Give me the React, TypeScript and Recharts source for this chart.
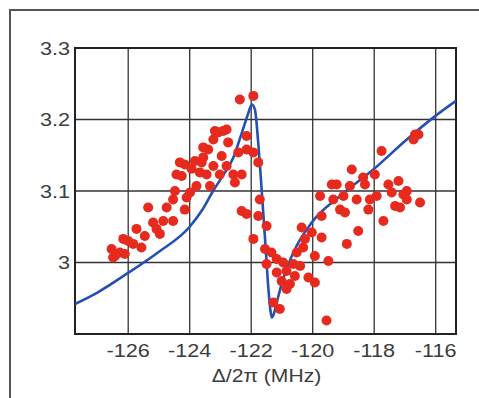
import React from "react";
import {
  ComposedChart,
  Scatter,
  Line,
  XAxis,
  YAxis,
  CartesianGrid,
  ReferenceArea,
  Label,
} from "recharts";

// measured points (detuning in MHz, signal)
const measuredX = [
  -126.54, -126.43, -126.27, -126.11, -126.49, -126.16, -126.0, -125.84, -125.73, -125.57,
  -125.46, -125.35, -125.19, -125.08, -124.97, -124.86, -124.75, -124.54, -124.54, -124.48,
  -124.43, -124.26, -124.16, -124.16, -124.1, -123.99, -123.94, -123.83, -123.78, -123.67,
  -123.61, -123.56, -123.45, -123.4, -123.34, -123.23, -123.18, -123.07, -122.96, -122.91,
  -122.8, -122.75, -123.02, -122.8, -122.58, -122.53, -122.42, -122.37, -122.31, -122.15,
  -122.15, -122.15, -121.93, -121.93, -121.93, -121.77, -121.72, -121.77, -121.5, -121.5,
  -121.34, -121.28, -121.07, -121.17, -121.01, -120.96, -120.85, -120.74, -120.63, -120.58,
  -120.52, -120.41, -120.36, -120.31, -120.25, -120.14, -120.03, -119.93, -119.93, -119.76,
  -119.71, -119.71, -119.55, -119.49, -119.38, -119.33, -119.22, -119.11, -119.0, -118.95,
  -118.89, -118.79, -118.73, -118.57, -118.52, -118.36, -118.3, -118.19, -118.14, -117.98,
  -117.92, -117.76, -117.7, -117.54, -117.43, -117.32, -117.21, -117.16, -117.05, -116.94,
  -116.72, -116.67, -116.56, -116.51, -116.94, -122.31, -123.23, -123.56, -124.32, -121.17,
  -120.85, -121.55,
];
const measuredY = [
  3.019, 3.009, 3.014, 3.012, 3.007, 3.033, 3.03, 3.026, 3.047, 3.021,
  3.037, 3.077, 3.056, 3.047, 3.04, 3.058, 3.077, 3.058, 3.088, 3.1,
  3.123, 3.121, 3.137, 3.074, 3.091, 3.098, 3.131, 3.142, 3.107, 3.126,
  3.14, 3.147, 3.123, 3.158, 3.107, 3.172, 3.184, 3.182, 3.149, 3.184,
  3.186, 3.168, 3.123, 3.135, 3.123, 3.112, 3.154, 3.228, 3.072, 3.177,
  3.158, 3.068, 3.233, 3.033, 3.154, 3.14, 3.088, 3.065, 3.051, 2.998,
  3.014, 2.944, 2.935, 3.005, 2.974, 3.0, 2.963, 2.97, 2.998, 2.981,
  3.014, 2.995, 3.049, 3.021, 3.033, 2.979, 3.042, 3.009, 2.972, 3.093,
  3.035, 3.065, 2.919, 3.002, 3.109, 3.088, 3.109, 3.074, 3.093, 3.07,
  3.026, 3.107, 3.13, 3.088, 3.044, 3.119, 3.109, 3.074, 3.088, 3.123,
  3.093, 3.156, 3.058, 3.109, 3.098, 3.079, 3.114, 3.077, 3.095, 3.088,
  3.172, 3.179, 3.179, 3.084, 3.1, 3.123, 3.135, 3.161, 3.14, 2.986,
  2.988, 3.019,
];

// fitted curve
const fitX = [
  -127.73, -127.0, -126.05, -125.0, -124.0, -123.6, -123.24, -122.9, -122.58, -122.3,
  -122.1, -121.98, -121.88, -121.78, -121.66, -121.55, -121.44, -121.38, -121.33, -121.25,
  -121.17, -120.96, -120.63, -120.03, -119.11, -118.03, -116.94, -116.07, -115.34,
];
const fitY = [
  2.942, 2.958, 2.984, 3.015, 3.05, 3.073, 3.1, 3.123, 3.147, 3.182,
  3.208, 3.221, 3.214, 3.172, 3.102, 3.033, 2.963, 2.935, 2.923, 2.93,
  2.944, 2.977, 3.014, 3.056, 3.093, 3.13, 3.172, 3.203, 3.226,
];

const xTicks = [-126, -124, -122, -120, -118, -116];
const yTicks = [3, 3.1, 3.2, 3.3];

const xDomain: [number, number] = [-127.73, -115.34];
const yDomain: [number, number] = [2.9, 3.3];

const points = measuredX.map((x, i) => ({ x, y: measuredY[i] }));
const fit = fitX.map((x, i) => ({ x, y: fitY[i] }));

const font = "'Liberation Sans', Arial, sans-serif";
const textColor = "#3c3c3c";

// the original lettering is a bit stretched sideways
const XTick = (props: any) => (
  <g transform={`translate(${props.x},${props.y})`}>
    <text transform="scale(1.17,1)" textAnchor="middle" dy="0.71em" fill={textColor} fontSize={18.5} fontFamily={font}>
      {props.payload.value}
    </text>
  </g>
);

const YTick = (props: any) => {
  const v = props.payload.value;
  return (
    <g transform={`translate(${props.x},${props.y})`}>
      <text transform="scale(1.17,1)" textAnchor="end" dy="0.355em" fill={textColor} fontSize={18.5} fontFamily={font}>
        {v === 3 ? "3" : v.toFixed(1)}
      </text>
    </g>
  );
};

const XLabel = (props: any) => {
  const vb = props.viewBox;
  return (
    <g transform={`translate(${vb.x + vb.width / 2 + 1},382)`}>
      <text transform="scale(1.14,1)" textAnchor="middle" fill={textColor} fontSize={18.5} fontFamily={font}>
        Δ/2π (MHz)
      </text>
    </g>
  );
};

const Dot = (props: any) => <circle cx={props.cx} cy={props.cy} r={5} fill="#e62a1e" />;

export default function App() {
  return (
    <div style={{ position: "fixed", left: 0, top: 0, width: 479, height: 398, background: "#fff" }}>
      <div
        style={{
          position: "absolute",
          left: 9,
          top: 9,
          right: 0,
          bottom: 0,
          borderTop: "2px solid #555",
          borderLeft: "2px solid #555",
        }}
      />
      <div style={{ position: "absolute", left: 0, top: 0 }}>
        <ComposedChart width={479} height={398} margin={{ top: 48, right: 23, bottom: 4, left: 0 }}>
          <CartesianGrid stroke="#333" strokeWidth={1.3} />
          <XAxis
            type="number"
            dataKey="x"
            domain={xDomain}
            ticks={xTicks}
            allowDataOverflow
            height={60}
            axisLine={false}
            tickLine={false}
            tickSize={0}
            tickMargin={10}
            tick={XTick}
          >
            <Label content={XLabel} />
          </XAxis>
          <YAxis
            type="number"
            dataKey="y"
            domain={yDomain}
            ticks={yTicks}
            allowDataOverflow
            width={75}
            axisLine={false}
            tickLine={false}
            tickSize={0}
            tickMargin={5}
            tick={YTick}
          />
          <Scatter data={points} dataKey="y" shape={Dot} isAnimationActive={false} />
          <Line
            data={fit}
            dataKey="y"
            type="monotone"
            stroke="#2450b4"
            strokeWidth={2.6}
            dot={false}
            activeDot={false}
            isAnimationActive={false}
          />
          <ReferenceArea
            x1={xDomain[0]}
            x2={xDomain[1]}
            y1={yDomain[0]}
            y2={yDomain[1]}
            fill="none"
            stroke="#222"
            strokeWidth={2}
          />
        </ComposedChart>
      </div>
    </div>
  );
}
